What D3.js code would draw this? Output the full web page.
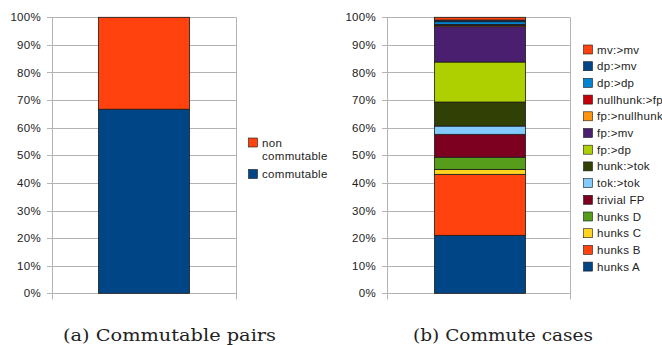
<!DOCTYPE html>
<html>
<head>
<meta charset="utf-8">
<script src="https://cdn.jsdelivr.net/npm/d3@7"></script>
<style>
  body { margin: 0; background: #fff; }
  svg { display: block; }
  .tick-label, .legend-label { font-family: "Liberation Sans", Arial, sans-serif; font-size: 11.5px; fill: #222; letter-spacing: 0.3px; }
  .caption { font-family: "DejaVu Serif", "Liberation Serif", serif; font-size: 17px; fill: #222; }
</style>
</head>
<body>
<script>
// Panel (a): share of commutable vs non-commutable pairs (percent)
const pairSeries = ["commutable", "non commutable"];
const pairValues = [66.7, 33.3];

// Panel (b): breakdown of commute cases, bottom to top (percent)
const caseSeries = ["hunks A", "hunks B", "hunks C", "hunks D", "trivial FP", "tok:>tok",
  "hunk:>tok", "fp:>dp", "fp:>mv", "fp:>nullhunk", "nullhunk:>fp", "dp:>dp", "dp:>mv", "mv:>mv"];
const caseValues = [21.0, 22.1, 1.8, 4.4, 8.3, 3.0, 8.7, 14.5, 12.8, 0.4, 0.4, 1.0, 0.6, 1.0];

const tickValues = [0, 10, 20, 30, 40, 50, 60, 70, 80, 90, 100];
const captions = ["(a) Commutable pairs", "(b) Commute cases"];

// Office-style default chart palette, cycled over the series
const palette = ["#004586", "#ff420e", "#ffd320", "#579d1c", "#7e0021", "#83caff",
  "#314004", "#aecf00", "#4b1f6f", "#ff950e", "#c5000b", "#0084d1"];

const W = 662, H = 345;
const svg = d3.select("body").append("svg").attr("width", W).attr("height", H);

function panel(cfg) {
  const { left, right, top, bottom, barL, barR, series, values, legend } = cfg;
  const y = d3.scaleLinear().domain([0, 100]).range([bottom, top]);
  const total = d3.sum(values);
  const g = svg.append("g");

  // horizontal grid lines
  g.selectAll("line.grid").data(tickValues).join("line")
    .attr("x1", left - 5).attr("x2", right)
    .attr("y1", d => Math.round(y(d)) + 0.5).attr("y2", d => Math.round(y(d)) + 0.5)
    .attr("stroke", "#b3b3b3").attr("stroke-width", 1);

  // value axis and closing boundary line with category ticks below
  [left, right].forEach(x => {
    g.append("line").attr("x1", x + 0.5).attr("x2", x + 0.5)
      .attr("y1", top).attr("y2", bottom + 6)
      .attr("stroke", "#b3b3b3");
  });

  // tick labels
  const axis = d3.axisLeft(y).tickValues(tickValues).tickSize(0).tickPadding(0)
    .tickFormat(d => d + "%");
  const ax = g.append("g").attr("transform", `translate(${left - 11},0)`).call(axis);
  ax.select(".domain").remove();
  ax.selectAll("text").attr("class", "tick-label").attr("fill", null)
    .style("font-family", null).style("font-size", null);
  ax.attr("font-family", null).attr("font-size", null);

  // stacked bar
  let acc = 0;
  const segs = values.map((v, i) => {
    const s = { name: series[i], y0: acc / total * 100, y1: (acc + v) / total * 100, color: palette[i % palette.length] };
    acc += v;
    return s;
  });
  g.selectAll("rect.seg").data(segs).join("rect")
    .attr("x", barL + 0.5).attr("width", barR - barL)
    .attr("y", d => y(d.y1)).attr("height", d => y(d.y0) - y(d.y1))
    .attr("fill", d => d.color)
    .attr("stroke", "#1a1a1a").attr("stroke-width", 0.8);

  // legend, listed top to bottom in reverse stacking order
  const items = segs.slice().reverse();
  const lg = g.append("g");
  items.forEach((d, i) => {
    const yy = legend.y + legend.offsets[i];
    lg.append("rect").attr("x", legend.x + 0.5).attr("y", yy + 0.5)
      .attr("width", 9).attr("height", 9)
      .attr("fill", d.color).attr("stroke", "#1a1a1a").attr("stroke-width", 0.6);
    const lines = legend.wrap && legend.wrap[d.name] ? legend.wrap[d.name] : [d.name];
    lines.forEach((t, k) => {
      lg.append("text").attr("class", "legend-label")
        .attr("x", legend.x + 14).attr("y", yy + 9 + k * 13).text(t);
    });
  });
}

panel({
  left: 52, right: 236, top: 17.3, bottom: 293.3, barL: 98, barR: 189,
  series: pairSeries, values: pairValues,
  legend: { x: 248, y: 137.5, offsets: [0, 31.5], wrap: { "non commutable": ["non", "commutable"] } }
});

panel({
  left: 387, right: 570, top: 17.3, bottom: 293.3, barL: 434, barR: 525,
  series: caseSeries, values: caseValues,
  legend: { x: 583, y: 44.5, offsets: d3.range(14).map(i => i * 16.7) }
});

// sub-figure captions
const capPos = [{ x: 63, w: 213 }, { x: 413, w: 180 }];
svg.selectAll("text.caption").data(captions).join("text")
  .attr("class", "caption")
  .attr("x", (d, i) => capPos[i].x).attr("y", 340.5)
  .attr("textLength", (d, i) => capPos[i].w).attr("lengthAdjust", "spacingAndGlyphs")
  .text(d => d);
</script>
</body>
</html>
